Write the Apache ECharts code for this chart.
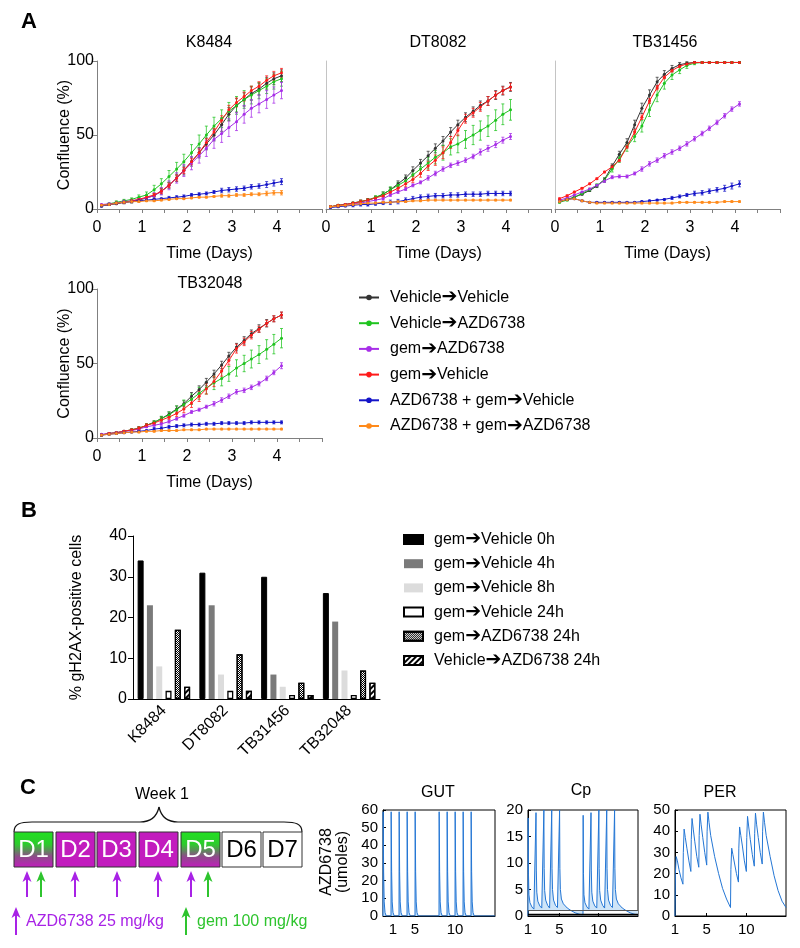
<!DOCTYPE html>
<html><head><meta charset="utf-8">
<script src="https://cdn.jsdelivr.net/npm/echarts@6/dist/echarts.min.js"></script>
<style>html,body{margin:0;padding:0;background:#fff}#c{width:800px;height:948px}</style>
</head><body><div id="c"></div><script>
const FONT = '"Liberation Sans", Arial, sans-serif';

// ---------- Panel A: confluence curves ----------
const timeDays = [0.1,0.27,0.43,0.6,0.77,0.93,1.1,1.27,1.43,1.6,1.77,1.93,2.1,2.27,2.43,2.6,2.77,2.93,3.1,3.27,3.43,3.6,3.77,3.93,4.1];
const treatmentNames = ['Vehicle\u2192Vehicle','Vehicle\u2192AZD6738','gem\u2192AZD6738','gem\u2192Vehicle','AZD6738 + gem\u2192Vehicle','AZD6738 + gem\u2192AZD6738'];
const cellLinesA = ['K8484','DT8082','TB31456','TB32048'];
const xTicksA = [0,1,2,3,4];

// K8484
const k_vv  = [2,3,3.5,4.5,5,6,7.5,9,12,16,21,26,32,38,44,50,57,64,70,74,78,81,85,88,90];
const k_va  = [2.5,3.5,4.5,5.5,6.5,8,9.5,13,17,22,27,32,38,44,50,56,61,66,70,74,77,80,83,86,88];
const k_ga  = [3,3.5,4,5,5.5,6.5,7.5,9,12,16,21,26,31,36,41,47,51,55,59,64,68,71,74,77,80];
const k_gv  = [2.5,3,4,4.5,5.5,6.5,8,9.5,12,16,21,26,32,38,45,52,60,67,72,76,80,83,87,90,92];
const k_agv = [2,3,4,4.5,5,5.5,6,6.5,7,7.5,8,8.5,9.5,10,10.5,11.5,12.5,13,13.5,14,15,15.5,16.5,17.5,18.5];
const k_aga = [2.5,3,4,4.5,5,5,5.5,5.5,6,6.5,7,7,7.5,8,8,8.5,9,9,9.5,9.5,10,10,10.5,11,11];
const k_vv_e  = [0.5,0.5,0.5,1,1,1,1.5,1.5,2,2,2.5,3,3,3.5,4,4,4.5,4.5,4.5,4.5,4.5,4,4,4,4];
const k_va_e  = [0.5,0.5,1,1,1,1.5,2,3,3.5,4,4.5,5,5.5,6,6,6,6,6,6,6,6,5.5,5,5,5];
const k_ga_e  = [0.5,0.5,0.5,1,1,1,1.5,2,2.5,3,3.5,4,4.5,5,5.5,6,6,6,6,6,6,6,6,5.5,5.5];
const k_gv_e  = [0.5,0.5,0.5,0.5,1,1,1,1,1.5,1.5,2,2,2,2.5,2.5,2.5,3,3,3,3,3,3,3,3,3];
const k_agv_e = [0.5,0.5,0.5,0.5,0.5,0.5,0.5,0.5,0.5,1,1,1,1,1,1,1,1.5,1.5,1.5,1.5,1.5,1.5,2,2,2];
const k_aga_e = [0.5,0.5,0.5,0.5,0.5,0.5,0.5,0.5,0.5,0.5,0.5,0.5,0.5,0.5,0.5,0.5,1,1,1,1,1,1,1.5,1.5,1.5];

// DT8082
const d_vv  = [1.5,2.5,3,4,5,6,7.5,10,13,17,21,26,31,36,41,46,52,57,62,66,70,73,77,80,82.5];
const d_va  = [1.5,2.5,3,4,5,6,8,10,13,16,19,23,27,31,35,38,42,44,47,50,53,56,60,64,67];
const d_ga  = [1.5,2,3,3.5,4,5,6,7,9.5,11.5,13.5,16,18,21,24,27,29.5,31,33,35.5,38.5,41,43.5,46.5,49];
const d_gv  = [1.5,2.5,3,4,5,6,7.5,9,11.5,14,17,20,24,29,33,38,45,53,61,65,69,73,77,80,82.5];
const d_agv = [1,1.5,2,2.5,3,3,3.5,4,4.5,5,6,7,8,8.5,9,9,9.5,9.5,10,10,10,10.5,10.5,10.5,10.5];
const d_aga = [1.5,2,2.5,3,3.5,4,4,4.5,4.5,5,5,5.5,5.5,6,6,6,6,6,6,6,6,6,6,6,6];
const d_vv_e  = [0.5,0.5,0.5,0.5,1,1,1,1.5,1.5,2,2,2.5,2.5,3,3,3,3,3,3,3,3,3,3,3,3];
const d_va_e  = [0.5,0.5,0.5,0.5,1,1,1,1.5,2,2,2.5,3,3.5,4,4.5,5,5.5,6,6,6.5,6.5,7,7,7,7];
const d_ga_e  = [0.5,0.5,0.5,0.5,0.5,0.5,0.5,1,1,1,1,1,1,1.5,1.5,1.5,1.5,1.5,1.5,1.5,2,2,2,2,2];
const d_gv_e  = [0.5,0.5,0.5,0.5,1,1,1,1,1.5,1.5,2,2,2.5,3,3.5,4,4,3.5,3,3,3,3,2.5,2.5,2.5];
const d_agv_e = [0.5,0.5,0.5,1,1,1,1,1,1.5,1.5,1.5,1.5,1.5,1.5,1.5,1.5,1.5,1.5,1.5,1.5,1.5,1.5,1.5,1.5,1.5];
const d_aga_e = [0.5,0.5,0.5,0.5,0.5,0.5,0.5,0.5,0.5,0.5,0.5,0.5,0.5,0.5,0.5,0.5,0.5,0.5,0.5,0.5,0.5,0.5,0.5,0.5,0.5];

// TB31456
const t1_vv  = [5,6.5,8,10,12.5,15.5,20,29,37,45,57,68,77,86,91,95,97.5,98.5,99,99,99,99,99,99,99];
const t1_va  = [4.5,6,8,10.5,13,16,19.5,27,34,42,49,56,67,77,85,90.5,94,97,98.5,99,99,99,99,99,99];
const t1_ga  = [6,7.5,9.5,11.5,13.5,16,19,21.5,22,22,24,27,30.5,33,36,38.5,41,44,47.5,51,54.5,58.5,63,67.5,71];
const t1_gv  = [7,9,11.5,14,17,20.5,25,28.5,33,42,52,62,73,82,89,93.5,96.5,98,99,99,99,99,99,99,99];
const t1_agv = [5,6.5,7,5.5,4.5,4.5,4.5,4.5,4.5,4.5,4.5,5,5.5,6,6.5,7.5,8.5,9.5,10.5,11,12,13,14,15.5,17];
const t1_aga = [5,6.5,7,5.5,4.5,4,4,4,4,4,4,4,4,4,4,4,4.5,4.5,4.5,4.5,4.5,4.5,5,5,5];
const t1_vv_e  = [0.5,0.5,0.5,0.5,0.5,1,1,1.5,2,2.5,3,3.5,3.5,3,2.5,2,1.5,1,0.5,0.5,0.5,0.5,0.5,0.5,0.5];
const t1_va_e  = [0.5,0.5,0.5,0.5,1,1,1.5,2,2.5,3,3.5,4,4.5,4.5,4,3,2.5,2,1,0.5,0.5,0.5,0.5,0.5,0.5];
const t1_ga_e  = [0.5,0.5,0.5,0.5,0.5,0.5,1,1,1,1,1,1.5,1.5,1.5,1.5,1.5,1.5,1.5,1.5,1.5,1.5,1.5,1.5,1.5,1.5];
const t1_gv_e  = [0.5,0.5,0.5,0.5,0.5,0.5,0.5,1,1,1,1.5,1.5,1.5,1.5,1,1,1,0.5,0.5,0.5,0.5,0.5,0.5,0.5,0.5];
const t1_agv_e = [0.5,0.5,0.5,0.5,0.5,0.5,0.5,0.5,0.5,0.5,0.5,0.5,0.5,0.5,0.5,1,1,1,1.5,1.5,1.5,1.5,2,2,2];
const t1_aga_e = [0.5,0.5,0.5,0.5,0.5,0.5,0.5,0.5,0.5,0.5,0.5,0.5,0.5,0.5,0.5,0.5,0.5,0.5,0.5,0.5,0.5,0.5,0.5,0.5,0.5];

// TB32048
const t2_vv  = [2,3,3.5,4.5,5.5,6.5,8.5,10.5,13,16,19.5,23,28,32.5,37.5,43,49,55,61,65.5,70,73.5,77,80,82.5];
const t2_va  = [2,3,3.5,4.5,5.5,6.5,8.5,10.5,13,15.5,19,22.5,26,30,33.5,37,40,43,47,50,53,56,59.5,63,67];
const t2_ga  = [2.5,3,3.5,4.5,5,6,7.5,8.5,9.5,11,13,15,17.5,19,21,23,25.5,28,31,32,34,36.5,40,44,48.5];
const t2_gv  = [2,3,3.5,4.5,5.5,6.5,8.5,10,12,14,16.5,19.5,23.5,28,33,38,45,52,60,64.5,69,73,77,80,82.5];
const t2_agv = [2,2.5,3,3.5,4,4.5,5,6,6.5,7.5,8,8.5,9,9,9.5,9.5,10,10,10,10,10.5,10.5,10.5,10.5,10.5];
const t2_aga = [2,2.5,3,3.5,4,4,4.5,4.5,5,5,5,5.5,5.5,5.5,6,6,6,6,6,6,6,6,6,6,6];
const t2_vv_e  = [0.5,0.5,0.5,0.5,0.5,1,1,1,1.5,1.5,2,2,2.5,2.5,2.5,2.5,2.5,2.5,2.5,2.5,2.5,2.5,2.5,2,2];
const t2_va_e  = [0.5,0.5,0.5,0.5,0.5,1,1,1,1.5,2,2.5,3,3.5,4,4,4.5,5,5,5.5,5.5,6,6,6.5,6.5,6.5];
const t2_ga_e  = [0.5,0.5,0.5,0.5,0.5,0.5,0.5,0.5,1,1,1,1,1,1,1,1.5,1.5,1.5,1.5,1.5,1.5,1.5,1.5,1.5,2];
const t2_gv_e  = [0.5,0.5,0.5,0.5,0.5,1,1,1,1.5,1.5,2,2.5,3,3.5,3.5,3.5,3.5,3,3,2.5,2.5,2,2,2,2];
const t2_agv_e = [0.5,0.5,0.5,0.5,0.5,0.5,0.5,1,1,1,1,1,1,1,1,1,1,1,1,1,1,1,1,1,1];
const t2_aga_e = [0.5,0.5,0.5,0.5,0.5,0.5,0.5,0.5,0.5,0.5,0.5,0.5,0.5,0.5,0.5,0.5,0.5,0.5,0.5,0.5,0.5,0.5,0.5,0.5,0.5];

// ---------- Panel B: gH2AX ----------
const cellLinesB = ['K8484','DT8082','TB31456','TB32048'];
const barNamesB = ['gem\u2192Vehicle 0h','gem\u2192Vehicle 4h','gem\u2192Vehicle 8h','gem\u2192Vehicle 24h','gem\u2192AZD6738 24h','Vehicle\u2192AZD6738 24h'];
const h2ax_gv0  = [34,31,30,26];
const h2ax_gv4  = [23,23,6,19];
const h2ax_gv8  = [8,6,3,7];
const h2ax_gv24 = [2,2,1,1];
const h2ax_ga24 = [17,11,4,7];
const h2ax_va24 = [3,2,1,4];

// ---------- Panel C: PK model (day, umoles) ----------
const pkTicks = [1,5,10];
const gutCurve = [[1,0],[1.02,59],[1.08,25],[1.15,8],[1.25,2],[1.4,0],
 [2,0],[2.02,59],[2.08,25],[2.15,8],[2.25,2],[2.4,0],
 [3,0],[3.02,59],[3.08,25],[3.15,8],[3.25,2],[3.4,0],
 [4,0],[4.02,59],[4.08,25],[4.15,8],[4.25,2],[4.4,0],
 [5,0],[5.02,59],[5.08,25],[5.15,8],[5.25,2],[5.4,0],
 [8,0],[8.02,59],[8.08,25],[8.15,8],[8.25,2],[8.4,0],
 [9,0],[9.02,59],[9.08,25],[9.15,8],[9.25,2],[9.4,0],
 [10,0],[10.02,59],[10.08,25],[10.15,8],[10.25,2],[10.4,0],
 [11,0],[11.02,59],[11.08,25],[11.15,8],[11.25,2],[11.4,0],
 [12,0],[12.02,59],[12.08,25],[12.15,8],[12.25,2],[12.4,0],[15,0]];
const cpCurve = [[1,0],[1.02,18.5],[1.06,8],[1.12,4],[1.25,2.5],[1.5,1.7],[1.75,1.3],[2,1.1],
 [2.02,19.5],[2.06,8.5],[2.12,4.5],[2.25,2.8],[2.5,1.9],[2.75,1.5],[3,1.2],
 [3.02,20],[3.06,9],[3.12,4.8],[3.25,3],[3.5,2],[3.75,1.5],[4,1.3],
 [4.02,20],[4.06,9],[4.12,5],[4.25,3],[4.5,2],[4.75,1.6],[5,1.3],
 [5.02,20],[5.06,9],[5.12,5],[5.25,3.2],[5.5,2.3],[6,1.5],[6.5,1],[7,0.6],[7.5,0.35],[8,0.2],
 [8.02,19],[8.06,8],[8.12,4],[8.25,2.5],[8.5,1.7],[8.75,1.3],[9,1.1],
 [9.02,19.5],[9.06,8.5],[9.12,4.5],[9.25,2.8],[9.5,1.9],[9.75,1.5],[10,1.2],
 [10.02,20],[10.06,9],[10.12,4.8],[10.25,3],[10.5,2],[10.75,1.5],[11,1.3],
 [11.02,20],[11.06,9],[11.12,5],[11.25,3],[11.5,2],[11.75,1.6],[12,1.3],
 [12.02,20],[12.06,9],[12.12,5],[12.25,3.2],[12.5,2.3],[13,1.5],[13.5,1],[14,0.6],[14.5,0.35],[15,0.2]];
const cpThresholds = [1, 0.3];
const perCurve = [[1,0],[1.05,20],[1.15,28],[1.3,26],[1.5,22],[1.75,18],[2,15],
 [2.05,30],[2.15,41],[2.3,37],[2.5,32],[2.75,26],[3,21],
 [3.05,36],[3.15,46],[3.3,41],[3.5,35],[3.75,28],[4,23],
 [4.05,38],[4.15,48],[4.3,43],[4.5,37],[4.75,30],[5,24],
 [5.05,40],[5.15,49],[5.3,44],[5.5,38],[6,28],[6.5,20],[7,13],[7.5,8],[8,4],
 [8.05,22],[8.15,32],[8.3,29],[8.5,25],[8.75,20],[9,16],
 [9.05,32],[9.15,42],[9.3,38],[9.5,33],[9.75,26],[10,21],
 [10.05,37],[10.15,47],[10.3,42],[10.5,36],[10.75,29],[11,23.5],
 [11.05,39],[11.15,48.5],[11.3,43],[11.5,37],[11.75,30],[12,24.5],
 [12.05,40],[12.15,49],[12.3,44],[12.5,38],[13,28],[13.5,19],[14,12],[14.5,7],[15,4]];
const scheduleDays = ['D1','D2','D3','D4','D5','D6','D7'];

// ---------- build ----------
const colorsA = ['#333333','#1fc41f','#a72ee8','#ff1a1a','#1414c8','#ff8a1a'];
const panelsA = [
  {means:[k_vv,k_va,k_ga,k_gv,k_agv,k_aga], errs:[k_vv_e,k_va_e,k_ga_e,k_gv_e,k_agv_e,k_aga_e]},
  {means:[d_vv,d_va,d_ga,d_gv,d_agv,d_aga], errs:[d_vv_e,d_va_e,d_ga_e,d_gv_e,d_agv_e,d_aga_e]},
  {means:[t1_vv,t1_va,t1_ga,t1_gv,t1_agv,t1_aga], errs:[t1_vv_e,t1_va_e,t1_ga_e,t1_gv_e,t1_agv_e,t1_aga_e]},
  {means:[t2_vv,t2_va,t2_ga,t2_gv,t2_agv,t2_aga], errs:[t2_vv_e,t2_va_e,t2_ga_e,t2_gv_e,t2_agv_e,t2_aga_e]}
];
const gridA = [
  {left:97, top:61, width:225, height:148},
  {left:326, top:61, width:225, height:148},
  {left:555, top:61, width:225, height:148},
  {left:97, top:289, width:225, height:149}
];
const txt = {color:'#000', fontFamily:FONT};

function errRender(params, api){
  const x = api.value(0);
  const lo = api.coord([x, api.value(1)]);
  const hi = api.coord([x, api.value(2)]);
  const c = api.visual('color');
  const mk = () => ({stroke:c, lineWidth:1, opacity:0.75});
  return {type:'group', children:[
    {type:'line', shape:{x1:lo[0],y1:lo[1],x2:hi[0],y2:hi[1]}, style:mk()},
    {type:'line', shape:{x1:lo[0]-1.5,y1:lo[1],x2:lo[0]+1.5,y2:lo[1]}, style:mk()},
    {type:'line', shape:{x1:hi[0]-1.5,y1:hi[1],x2:hi[0]+1.5,y2:hi[1]}, style:mk()}
  ]};
}

const grids = [], xAxes = [], yAxes = [], series = [];
gridA.forEach((g, i) => {
  grids.push(Object.assign({containLabel:false}, g));
  const labelled = (i === 0 || i === 3);
  xAxes.push({type:'value', gridIndex:i, min:0, max:5, interval:0.5,
    axisLine:{lineStyle:{color:'#808080', width:1}},
    axisTick:{length:4, lineStyle:{color:'#808080'}},
    axisLabel:Object.assign({fontSize:16, margin:11, formatter: v => xTicksA.indexOf(v) >= 0 ? String(v) : ''}, txt),
    splitLine:{show:false},
    name:'Time (Days)', nameLocation:'middle', nameGap:37, nameTextStyle:Object.assign({fontSize:16}, txt)});
  yAxes.push({type:'value', gridIndex:i, min:0, max:100, interval:50,
    axisLine:{show:true, lineStyle:{color: labelled ? '#808080' : '#c4c4c4', width:1}},
    axisTick:{show:labelled, length:4, lineStyle:{color:'#808080'}},
    axisLabel:Object.assign({show:labelled, fontSize:16, margin:3}, txt),
    splitLine:{show:false},
    name: labelled ? 'Confluence (%)' : '', nameLocation:'middle', nameGap:24, nameMoveOverlap:false,
    nameTextStyle:Object.assign({fontSize:16}, txt)});
  const p = panelsA[i];
  treatmentNames.forEach((nm, s) => {
    const m = p.means[s], e = p.errs[s];
    series.push({type:'custom', name:'err'+i+'_'+s, xAxisIndex:i, yAxisIndex:i, silent:true,
      itemStyle:{color:colorsA[s]}, renderItem:errRender, encode:{x:0, y:[1,2]},
      data: timeDays.map((t, k) => [t, m[k]-e[k], m[k]+e[k]]), z:2});
    series.push({type:'line', name:nm, xAxisIndex:i, yAxisIndex:i, silent:true,
      data: timeDays.map((t, k) => [t, m[k]]), symbol:'circle', symbolSize:3, showSymbol:true,
      itemStyle:{color:colorsA[s]}, lineStyle:{color:colorsA[s], width:1}, z:3});
  });
});

// Panel B
grids.push({left:133, top:536, width:247, height:163});
xAxes.push({type:'category', gridIndex:4, data:cellLinesB,
  axisLine:{lineStyle:{color:'#000', width:1}},
  axisTick:{alignWithLabel:true, length:5, lineStyle:{color:'#000'}},
  axisLabel:Object.assign({rotate:45, fontSize:16, margin:9}, txt)});
yAxes.push({type:'value', gridIndex:4, min:0, max:40, interval:10,
  axisLine:{show:true, lineStyle:{color:'#000', width:1}},
  axisTick:{show:true, length:5, lineStyle:{color:'#000'}},
  axisLabel:Object.assign({fontSize:16, margin:6}, txt),
  splitLine:{show:false},
  name:'% gH2AX-positive cells', nameLocation:'middle', nameGap:48, nameMoveOverlap:false,
  nameTextStyle:Object.assign({fontSize:16}, txt)});
const barStyles = [
  {color:'#000000', borderColor:'#000', borderWidth:1},
  {color:'#7a7a7a', borderWidth:0},
  {color:'#dcdcdc', borderWidth:0},
  {color:'#ffffff', borderColor:'#000', borderWidth:1.3},
  {color:'#ffffff', borderColor:'#000', borderWidth:1.2,
    decal:{symbol:'rect', symbolSize:1, color:'#000', dashArrayX:[[1,1],[0,1,1,0]], dashArrayY:[1,0], rotation:0}},
  {color:'#ffffff', borderColor:'#000', borderWidth:1.2,
    decal:{symbol:'rect', symbolSize:1, color:'#000', dashArrayX:[1,0], dashArrayY:[1.5,1.5], rotation:-Math.PI/4}}
];
[h2ax_gv0,h2ax_gv4,h2ax_gv8,h2ax_gv24,h2ax_ga24,h2ax_va24].forEach((vals, s) => {
  series.push({type:'bar', name:barNamesB[s], xAxisIndex:4, yAxisIndex:4, data:vals,
    barWidth:6, barGap:'55%', itemStyle:barStyles[s], silent:true});
});

// Panel C PK plots
const pkGrids = [
  {left:383, top:810, width:112, height:106},
  {left:528, top:810, width:110, height:106},
  {left:675, top:810, width:111, height:106}
];
const pkY = [{max:60, interval:10},{max:20, interval:5},{max:50, interval:10}];
pkGrids.forEach((g, j) => {
  const gi = 5 + j;
  grids.push(Object.assign({show:true, borderColor:'#000', borderWidth:1, backgroundColor:'#fff'}, g));
  xAxes.push({type:'value', gridIndex:gi, min:1, max:15,
    axisLine:{lineStyle:{color:'#000', width:1}},
    axisTick:{inside:true, length:3, customValues:pkTicks, lineStyle:{color:'#000'}},
    axisLabel:Object.assign({customValues:pkTicks, fontSize:15, margin:6,
      formatter: v => (j === 0 && v === 1) ? '{s|1}' : String(v),
      rich:{s:{padding:[0,0,0,20], fontSize:15, color:'#000', fontFamily:FONT}}}, txt),
    splitLine:{show:false}});
  yAxes.push({type:'value', gridIndex:gi, min:0, max:pkY[j].max, interval:pkY[j].interval,
    axisLine:{show:true, lineStyle:{color:'#000', width:1}},
    axisTick:{show:true, inside:true, length:3, lineStyle:{color:'#000'}},
    axisLabel:Object.assign({fontSize:15, margin:5}, txt),
    splitLine:{show:false}});
});
const pkBlue = '#2476d4';
series.push({type:'line', xAxisIndex:5, yAxisIndex:5, data:gutCurve, symbol:'none', silent:true,
  lineStyle:{color:pkBlue, width:1}, itemStyle:{color:pkBlue}, areaStyle:{color:'#bcdaf6', opacity:1}});
series.push({type:'line', xAxisIndex:6, yAxisIndex:6, data:cpCurve, symbol:'none', silent:true,
  lineStyle:{color:pkBlue, width:1}, itemStyle:{color:pkBlue},
  areaStyle:{color:'#cfe5f8', opacity:1, origin:cpThresholds[0]},
  markLine:{silent:true, symbol:'none', label:{show:false}, animation:false,
    data:[{yAxis:cpThresholds[0], lineStyle:{color:'#555', width:1, type:'solid'}},
          {yAxis:cpThresholds[1], lineStyle:{color:'#000', width:1.3, type:'solid'}}]}});
series.push({type:'line', xAxisIndex:7, yAxisIndex:7, data:perCurve, symbol:'none', silent:true,
  lineStyle:{color:pkBlue, width:1}, itemStyle:{color:pkBlue}});

// ---------- graphics (labels, schematic) ----------
const G = [];
function T(x, y, text, size, opts){
  G.push(Object.assign({type:'text', x:x, y:y, silent:true,
    style:Object.assign({text:text, fontSize:size, fontFamily:FONT, fill:'#000', align:'center', verticalAlign:'middle'}, opts && opts.style || {})},
    opts && opts.el || {}));
}
T(29, 22, 'A', 22, {style:{fontWeight:'bold'}});
T(29, 511, 'B', 22, {style:{fontWeight:'bold'}});
T(28, 788, 'C', 22, {style:{fontWeight:'bold'}});
const titlePos = [[209,43],[438,43],[665,43],[210,284]];
cellLinesA.forEach((n, i) => T(titlePos[i][0], titlePos[i][1], n, 16));
T(438, 793, 'GUT', 16); T(581, 791, 'Cp', 16); T(720, 793, 'PER', 16);
T(335, 862, 'AZD6738\n(umoles)', 16, {el:{rotation:Math.PI/2}});
T(162, 795, 'Week 1', 16);

// brace (curly bracket over week)
const braceStyle = () => ({fill:null, stroke:'#111', lineWidth:1.2});
G.push({type:'bezierCurve', silent:true, shape:{x1:14,y1:832,cpx1:14,cpy1:824,cpx2:20,cpy2:822,x2:32,y2:822}, style:braceStyle()});
G.push({type:'line', silent:true, shape:{x1:32,y1:822,x2:140,y2:822}, style:braceStyle()});
G.push({type:'bezierCurve', silent:true, shape:{x1:140,y1:822,cpx1:152,cpy1:822,cpx2:157,cpy2:816,x2:159,y2:807}, style:braceStyle()});
G.push({type:'bezierCurve', silent:true, shape:{x1:159,y1:807,cpx1:161,cpy1:816,cpx2:166,cpy2:822,x2:178,y2:822}, style:braceStyle()});
G.push({type:'line', silent:true, shape:{x1:178,y1:822,x2:284,y2:822}, style:braceStyle()});
G.push({type:'bezierCurve', silent:true, shape:{x1:284,y1:822,cpx1:296,cpy1:822,cpx2:302,cpy2:824,x2:302,y2:832}, style:braceStyle()});
// day boxes
const boxX = [14,56,97,139,181,222,263];
const magenta = '#c21cbe';
const grad = {type:'linear', x:0, y:0, x2:0, y2:1, colorStops:[{offset:0, color:'#22e022'},{offset:0.35, color:'#2ccc2c'},{offset:0.7, color:'#8e4a8a'},{offset:1, color:'#c21cbe'}]};
scheduleDays.forEach((d, i) => {
  const fill = (i === 0 || i === 4) ? grad : (i < 4 ? magenta : '#fff');
  G.push({type:'rect', silent:true, shape:{x:boxX[i], y:832, width:39, height:35}, style:{fill:fill, stroke:'#333', lineWidth:1}});
  T(boxX[i] + 19.5, 850, d, 24, {style:{fill: i < 5 ? '#fff' : '#000'}});
});
function arrow(x, yTop, yBot, color){
  G.push({type:'line', silent:true, shape:{x1:x, y1:yBot, x2:x, y2:yTop+6}, style:{stroke:color, lineWidth:2}});
  G.push({type:'polygon', silent:true, shape:{points:[[x,yTop],[x-4.5,yTop+11],[x,yTop+8],[x+4.5,yTop+11]]}, style:{fill:color}});
}
const purple = '#a822e6', green = '#2ec42e';
[27,75,117,158,191].forEach(x => arrow(x, 871, 897, purple));
[41,208].forEach(x => arrow(x, 871, 897, green));
arrow(16, 907, 935, purple);
arrow(186, 907, 935, green);
T(26, 922, 'AZD6738 25 mg/kg', 16, {style:{fill:purple, align:'left'}});
T(197, 922, 'gem 100 mg/kg', 16, {style:{fill:green, align:'left'}});

// legend text: draw the arrow as a wider glyph
const arrowFmt = name => name.replace('\u2192', '{ar|\u2794}');
const legendText = Object.assign({fontSize:16, lineHeight:17, padding:[0,0,0,6],
  rich:{ar:{fontSize:19, fontFamily:'"DejaVu Sans", sans-serif', color:'#000', lineHeight:17}}}, txt);

const chart = echarts.init(document.getElementById('c'));
chart.setOption({
  animation:false,
  backgroundColor:'#fff',
  textStyle:{fontFamily:FONT},
  grid:grids, xAxis:xAxes, yAxis:yAxes, series:series,
  legend:[
    {data:treatmentNames, orient:'vertical', left:353, top:283, itemWidth:20, itemHeight:7, itemGap:6.7,
     selectedMode:false, lineStyle:{width:2}, formatter:arrowFmt, textStyle:legendText},
    {data:barNamesB, orient:'vertical', left:398, top:525, itemWidth:19, itemHeight:9, itemGap:5.2, icon:'rect',
     selectedMode:false, formatter:arrowFmt, textStyle:legendText}
  ],
  graphic:G
});
</script></body></html>
